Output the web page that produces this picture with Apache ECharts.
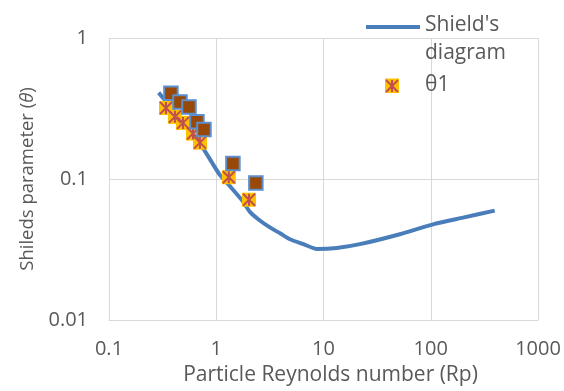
<!DOCTYPE html>
<html>
<head>
<meta charset="utf-8">
<script src="https://cdn.jsdelivr.net/npm/echarts@6/dist/echarts.min.js"></script>
<style>html,body{margin:0;padding:0;background:#fff}#c{width:564px;height:391px}</style>
</head>
<body>
<div id="c"></div>
<script>
// Shield's diagram curve
const shieldsX = [0.29, 0.40, 0.55, 0.705, 0.9, 1.08, 1.4, 1.77, 2.06, 2.55, 3.16, 4.0, 4.86, 6.5, 8.67, 13.3, 21.8, 51.5, 105, 200, 395];
const shieldsY = [0.41, 0.306, 0.226, 0.179, 0.133, 0.107, 0.0857, 0.0695, 0.0585, 0.0508, 0.0454, 0.0409, 0.0374, 0.0345, 0.0319, 0.0324, 0.0345, 0.0406, 0.0477, 0.0532, 0.0597];
// theta1 points
const theta1X = [0.340, 0.412, 0.490, 0.607, 0.705, 1.31, 2.02];
const theta1Y = [0.319, 0.276, 0.250, 0.210, 0.181, 0.103, 0.0713];
// second (unlabelled) point set
const theta2X = [0.378, 0.459, 0.557, 0.661, 0.768, 1.43, 2.34];
const theta2Y = [0.406, 0.351, 0.324, 0.255, 0.224, 0.129, 0.0938];
const xTicks = [0.1, 1, 10, 100, 1000];
const yTicks = [0.01, 0.1, 1];

const zip = (a, b) => a.map((v, i) => [v, b[i]]);
const FONT = 'Open Sans';
const GREY = '#595959';
const GRID = '#d9d9d9';
const STAR = '#c0504d';
const starPath = 'path://M0,0L10,10M10,0L0,10M5,0L5,10';
const pick = (ticks) => v => { const m = ticks.find(t => Math.abs(Math.log10(t) - Math.log10(v)) < 1e-6); return m !== undefined ? String(m) : ''; };

const chart = echarts.init(document.getElementById('c'), null, {renderer: 'canvas'});
chart.setOption({
  animation: false,
  textStyle: {fontFamily: FONT},
  grid: {left: 109, right: 26, top: 38, bottom: 67, containLabel: false},
  xAxis: {
    type: 'log', logBase: 10, min: 0.1, max: 1000,
    name: 'Particle Reynolds number (Rp)', nameLocation: 'middle', nameGap: 45,
    nameTextStyle: {color: GREY, fontSize: 21, fontFamily: FONT, padding: [0, 0, 0, 14]},
    axisLine: {show: true, lineStyle: {color: GRID, width: 1}},
    axisTick: {show: false},
    axisLabel: {color: GREY, fontSize: 20, margin: 19, fontFamily: FONT, formatter: pick(xTicks)},
    splitLine: {show: true, lineStyle: {color: GRID, width: 1}}
  },
  yAxis: {
    type: 'log', logBase: 10, min: 0.01, max: 1,
    name: 'Shileds parameter ({i|θ})', nameLocation: 'middle', nameGap: 66,
    nameTextStyle: {color: GREY, fontSize: 18.5, fontFamily: FONT,
      rich: {i: {fontStyle: 'italic', color: GREY, fontSize: 18.5, fontFamily: FONT}}},
    axisLine: {show: true, lineStyle: {color: GRID, width: 1}},
    axisTick: {show: false},
    axisLabel: {color: GREY, fontSize: 20, margin: 21, fontFamily: FONT, formatter: pick(yTicks)},
    splitLine: {show: true, lineStyle: {color: GRID, width: 1}}
  },
  legend: [
    {
      data: [{name: "Shield's diagram", icon: 'path://M0,0L54,0L54,4L0,4Z M0,28L0.01,28L0.01,28.01Z'}],
      left: 366, top: 9, padding: 0, itemWidth: 54, itemHeight: 28, itemGap: 0,
      formatter: () => "Shield's\ndiagram",
      textStyle: {color: GREY, fontSize: 21, fontFamily: FONT, lineHeight: 28, padding: [4, 0, 0, 0]},
      selectedMode: false
    },
    {
      data: [{name: 'θ1', icon: 'rect'}],
      left: 385, top: 75, padding: 0, itemWidth: 14, itemHeight: 14, itemGap: 0,
      textStyle: {color: GREY, fontSize: 21, fontFamily: FONT, padding: [4, 0, 0, 21]},
      selectedMode: false
    }
  ],
  graphic: [{
    type: 'group', x: 385, y: 79, z: 100,
    children: [
      {type: 'rect', z: 100, shape: {x: 0, y: 0, width: 14, height: 14}, style: {fill: '#ffc000'}},
      {type: 'line', z: 101, shape: {x1: 1, y1: 1, x2: 13, y2: 13}, style: {stroke: STAR, lineWidth: 2}},
      {type: 'line', z: 101, shape: {x1: 13, y1: 1, x2: 1, y2: 13}, style: {stroke: STAR, lineWidth: 2}},
      {type: 'line', z: 101, shape: {x1: 7, y1: 1, x2: 7, y2: 13}, style: {stroke: STAR, lineWidth: 2}}
    ]
  }],
  series: [
    {
      name: "Shield's diagram", type: 'line', data: zip(shieldsX, shieldsY),
      smooth: 0.2, showSymbol: false, symbol: 'none',
      lineStyle: {color: '#4a7ebb', width: 4}, itemStyle: {color: '#4a7ebb'}, z: 2
    },
    {
      name: 'θ1', type: 'scatter', data: zip(theta1X, theta1Y),
      symbol: 'rect', symbolSize: 14,
      itemStyle: {color: '#ffc000', opacity: 1}, z: 3
    },
    {
      name: 'θ1 star', type: 'scatter', data: zip(theta1X, theta1Y),
      symbol: starPath, symbolSize: 12,
      itemStyle: {color: 'rgba(0,0,0,0)', borderColor: STAR, borderWidth: 2, opacity: 1}, z: 4
    },
    {
      name: 'θ2', type: 'scatter', data: zip(theta2X, theta2Y),
      symbol: 'rect', symbolSize: 13.5,
      itemStyle: {color: '#984807', borderColor: '#5b8fd0', borderWidth: 2, opacity: 1}, z: 5
    }
  ]
});
</script>
</body>
</html>
